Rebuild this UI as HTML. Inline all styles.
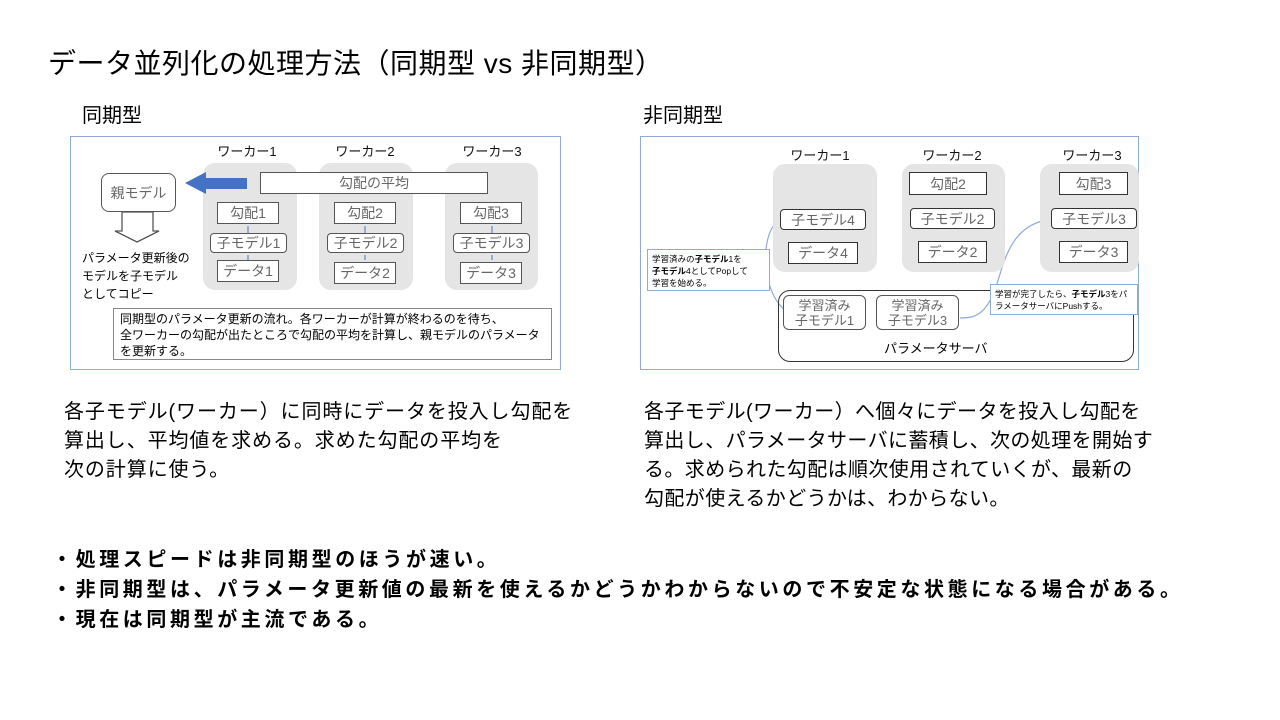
<!DOCTYPE html>
<html><head><meta charset="utf-8">
<style>
*{margin:0;padding:0;box-sizing:border-box}
body{width:1280px;height:720px;background:#fff;position:relative;overflow:hidden;font-family:"Liberation Sans","Noto Sans CJK JP",sans-serif;color:#000}
.a{position:absolute;white-space:nowrap}
.b{position:absolute;border:1.5px solid #555;background:#fff;display:flex;align-items:center;justify-content:center;color:#666;font-size:14px;white-space:nowrap}
.g{position:absolute;background:#e6e5e5;border-radius:12px}
.wt{position:absolute;font-size:13px;color:#111;white-space:nowrap;transform:translateX(-50%)}
.r{border-radius:4px}
</style></head><body>
<div class="a" style="left:48px;top:42px;font-size:28px;letter-spacing:0.5px">データ並列化の処理方法（同期型 vs 非同期型）</div>
<div class="a" style="left:82px;top:99px;font-size:20px">同期型</div>
<div class="a" style="left:643px;top:99px;font-size:20px">非同期型</div>

<!-- left panel -->
<div style="position:absolute;left:70px;top:136px;width:491px;height:234px;border:1.5px solid #8eaadb"></div>
<div class="wt" style="left:247px;top:141px">ワーカー1</div>
<div class="wt" style="left:365px;top:141px">ワーカー2</div>
<div class="wt" style="left:492px;top:141px">ワーカー3</div>
<div class="g" style="left:203px;top:163px;width:94px;height:127px"></div>
<div class="g" style="left:319px;top:163px;width:94px;height:127px"></div>
<div class="g" style="left:445px;top:163px;width:93px;height:127px"></div>
<div class="b" style="left:260px;top:172px;width:228px;height:22px">勾配の平均</div>
<div class="b" style="left:101px;top:173px;width:75px;height:39px;border-radius:8px">親モデル</div>
<svg style="position:absolute;left:0;top:0" width="1280" height="720">
<polygon points="185,183 206,172 206,178 247,178 247,189 206,189 206,194" fill="#4472c4"/>
<polygon points="122,212 122,231 115,231 137,242 159,231 153,231 153,212" fill="none" stroke="#555" stroke-width="1.3"/>
<g stroke="#4472c4" fill="#4472c4" stroke-width="1">
<line x1="248" y1="233" x2="248" y2="226"/><line x1="248" y1="260" x2="248" y2="255"/>
<line x1="365" y1="233" x2="365" y2="226"/><line x1="365" y1="260" x2="365" y2="255"/>
<line x1="492" y1="233" x2="492" y2="226"/><line x1="492" y1="260" x2="492" y2="255"/>
<line x1="823" y1="242" x2="823" y2="232"/>
<line x1="937" y1="241" x2="937" y2="231"/><line x1="936" y1="208" x2="936" y2="197"/><line x1="965" y1="197" x2="965" y2="206"/>
<line x1="1093" y1="241" x2="1093" y2="231"/><line x1="1078" y1="208" x2="1078" y2="197"/><line x1="1107" y1="197" x2="1107" y2="206"/>
</g>
<g stroke="#8eaadb" fill="none" stroke-width="1.2">
<path d="M785,310 C760,290 760,230 780,220"/>
<path d="M1051,219 C1010,225 1005,260 995,290 C985,315 975,318 960,318"/>
</g>
</svg>
<div class="b" style="left:217px;top:202px;width:62px;height:22px">勾配1</div>
<div class="b r" style="left:210px;top:233px;width:77px;height:20px">子モデル1</div>
<div class="b" style="left:217px;top:260px;width:62px;height:22px">データ1</div>
<div class="b" style="left:334px;top:202px;width:62px;height:22px">勾配2</div>
<div class="b r" style="left:327px;top:233px;width:77px;height:20px">子モデル2</div>
<div class="b" style="left:334px;top:262px;width:62px;height:22px">データ2</div>
<div class="b" style="left:460px;top:202px;width:62px;height:22px">勾配3</div>
<div class="b r" style="left:453px;top:233px;width:77px;height:20px">子モデル3</div>
<div class="b" style="left:460px;top:262px;width:62px;height:22px">データ3</div>
<div class="a" style="left:82px;top:249px;font-size:12px;line-height:18px">パラメータ更新後の<br>モデルを子モデル<br>としてコピー</div>
<div style="position:absolute;left:113px;top:308px;width:439px;height:52px;border:1.5px solid #888;font-size:12px;line-height:16px;padding:2px 6px">同期型のパラメータ更新の流れ。各ワーカーが計算が終わるのを待ち、<br>全ワーカーの勾配が出たところで勾配の平均を計算し、親モデルのパラメータ<br>を更新する。</div>

<!-- right panel -->
<div style="position:absolute;left:640px;top:136px;width:499px;height:234px;border:1.5px solid #8eaadb"></div>
<div class="wt" style="left:820px;top:145px">ワーカー1</div>
<div class="wt" style="left:952px;top:145px">ワーカー2</div>
<div class="wt" style="left:1092px;top:145px">ワーカー3</div>
<div class="g" style="left:773px;top:164px;width:104px;height:108px"></div>
<div class="g" style="left:902px;top:164px;width:103px;height:108px"></div>
<div class="g" style="left:1040px;top:164px;width:99px;height:108px"></div>
<div class="b r" style="left:780px;top:209px;width:86px;height:21px;border-color:#333">子モデル4</div>
<div class="b" style="left:788px;top:242px;width:70px;height:22px;border-color:#333">データ4</div>
<div class="b" style="left:909px;top:172px;width:78px;height:23px;border-color:#333">勾配2</div>
<div class="b r" style="left:910px;top:208px;width:85px;height:21px;border-color:#333">子モデル2</div>
<div class="b" style="left:918px;top:241px;width:69px;height:22px;border-color:#333">データ2</div>
<div class="b" style="left:1059px;top:172px;width:69px;height:23px;border-color:#333">勾配3</div>
<div class="b r" style="left:1051px;top:208px;width:86px;height:21px;border-color:#333">子モデル3</div>
<div class="b" style="left:1059px;top:241px;width:69px;height:22px;border-color:#333">データ3</div>
<div style="position:absolute;left:778px;top:290px;width:356px;height:72px;border:1.5px solid #333;border-radius:12px"></div>
<div class="a" style="left:884px;top:338px;font-size:13px">パラメータサーバ</div>
<div class="b" style="left:783px;top:295px;width:83px;height:35px;border-radius:6px;font-size:13px;line-height:15px;text-align:center;white-space:normal">学習済み<br>子モデル1</div>
<div class="b" style="left:876px;top:295px;width:83px;height:35px;border-radius:6px;font-size:13px;line-height:15px;text-align:center;white-space:normal">学習済み<br>子モデル3</div>
<div style="position:absolute;left:647px;top:249px;width:123px;height:42px;border:1px solid #8eaadb;background:#fff;font-size:8.5px;line-height:12px;padding:3px 4px;white-space:nowrap">学習済みの<b>子モデル</b>1を<br><b>子モデル</b>4としてPopして<br>学習を始める。</div>
<div style="position:absolute;left:990px;top:284px;width:148px;height:31px;border:1px solid #8eaadb;background:#fff;font-size:8.5px;line-height:12px;padding:3px 4px;white-space:nowrap">学習が完了したら、<b>子モデル</b>3をパ<br>ラメータサーバにPushする。</div>

<div class="a" style="left:64px;top:398px;font-size:20px;line-height:29px;letter-spacing:0.9px">各子モデル(ワーカー）に同時にデータを投入し勾配を<br>算出し、平均値を求める。求めた勾配の平均を<br>次の計算に使う。</div>
<div class="a" style="left:644px;top:398px;font-size:20px;line-height:29px;letter-spacing:0.4px">各子モデル(ワーカー）へ個々にデータを投入し勾配を<br>算出し、パラメータサーバに蓄積し、次の処理を開始す<br>る。求められた勾配は順次使用されていくが、最新の<br>勾配が使えるかどうかは、わからない。</div>
<div class="a" style="left:52px;top:545px;font-size:20px;line-height:30px;font-weight:bold;letter-spacing:3.6px">・処理スピードは非同期型のほうが速い。<br>・非同期型は、パラメータ更新値の最新を使えるかどうかわからないので不安定な状態になる場合がある。<br>・現在は同期型が主流である。</div>
</body></html>
